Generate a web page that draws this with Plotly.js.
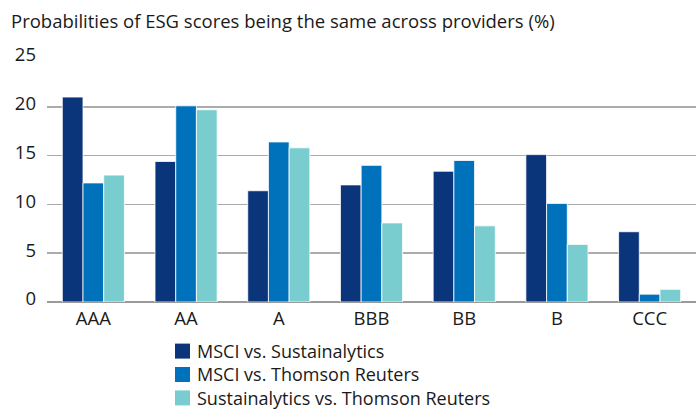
<!DOCTYPE html>
<html>
<head>
<meta charset="utf-8">
<script src="https://cdn.plot.ly/plotly-3.0.1.min.js"></script>
<style>html,body{margin:0;padding:0;background:#fff;}#chart{width:696px;height:410px;}</style>
</head>
<body>
<div id="chart"></div>
<script>
const categories = ["AAA", "AA", "A", "BBB", "BB", "B", "CCC"];
const seriesNames = ["MSCI vs. Sustainalytics", "MSCI vs. Thomson Reuters", "Sustainalytics vs. Thomson Reuters"];
const msciSust = [21.0, 14.4, 11.4, 12.0, 13.4, 15.1, 7.2];
const msciTR = [12.2, 20.1, 16.4, 14.0, 14.5, 10.1, 0.8];
const sustTR = [13.0, 19.7, 15.8, 8.1, 7.8, 5.9, 1.3];
const colors = ["#0a357b", "#0071bb", "#79cdcf"];
const yTicks = [0, 5, 10, 15, 20, 25];

const fontFam = "Open Sans, Noto Sans, sans-serif";
const fs = 18.5;
const legFs = 18;
const W = 696, H = 410;
const seriesValues = [msciSust, msciTR, sustTR];
const data = seriesValues.map((vals, i) => ({
  type: "bar",
  name: seriesNames[i],
  x: categories,
  y: vals,
  marker: {color: colors[i], line: {color: "#ffffff", width: 0.8}},
  hoverinfo: "x+y+name",
  showlegend: false
}));

// custom legend (tighter row spacing than Plotly's built-in legend)
const legendX0 = 175, legendSq = 15, legendStep = legFs * 1.3, legendMid = 374.5;
const shapes = [];
seriesNames.forEach((name, i) => {
  const cy = legendMid + (i - 1) * legendStep;
  shapes.push({
    type: "rect", xref: "paper", yref: "paper",
    x0: legendX0 / W, x1: (legendX0 + legendSq) / W,
    y0: 1 - (cy + legendSq / 2) / H, y1: 1 - (cy - legendSq / 2) / H,
    fillcolor: colors[i], line: {width: 0}
  });
});
const annotations = [{
  text: seriesNames.join("<br>"), xref: "paper", yref: "paper",
  x: 196 / W, y: 1 - legendMid / H, xanchor: "left", yanchor: "middle",
  align: "left", showarrow: false, borderpad: 0,
  font: {family: fontFam, size: legFs, color: "#1a1a1a"}
}];

const layout = {
  width: W, height: H,
  margin: {l: 0, r: 0, t: 0, b: 0, autoexpand: false},
  paper_bgcolor: "#ffffff", plot_bgcolor: "#ffffff",
  barmode: "group", bargap: 0.33, bargroupgap: 0,
  font: {family: fontFam, color: "#1a1a1a", size: fs},
  title: {
    text: "Probabilities of ESG scores being the same across providers (%)",
    xref: "container", yref: "container",
    x: 11 / W, xanchor: "left", y: 1 - 22 / H, yanchor: "middle",
    font: {family: fontFam, size: fs, color: "#1a1a1a"}
  },
  xaxis: {
    type: "category", showgrid: false, zeroline: false,
    showline: false, ticks: "", ticklabelstandoff: 3,
    tickfont: {family: fontFam, size: fs, color: "#1a1a1a"},
    domain: [47 / W, 1], fixedrange: true
  },
  yaxis: {
    range: [0, 25], tickvals: yTicks, ticktext: yTicks.map(String),
    showgrid: true, gridcolor: "#ababab", gridwidth: 1.5,
    zeroline: true, zerolinecolor: "#9a9a9a", zerolinewidth: 2,
    showline: false, ticks: "", ticklabelstandoff: 10, ticklabelshift: -3,
    tickfont: {family: fontFam, size: fs, color: "#1a1a1a"},
    domain: [1 - 302 / H, 1 - 58 / H], fixedrange: true
  },
  showlegend: false,
  shapes: shapes,
  annotations: annotations
};

Plotly.newPlot("chart", data, layout, {displayModeBar: false, staticPlot: true});
</script>
</body>
</html>
